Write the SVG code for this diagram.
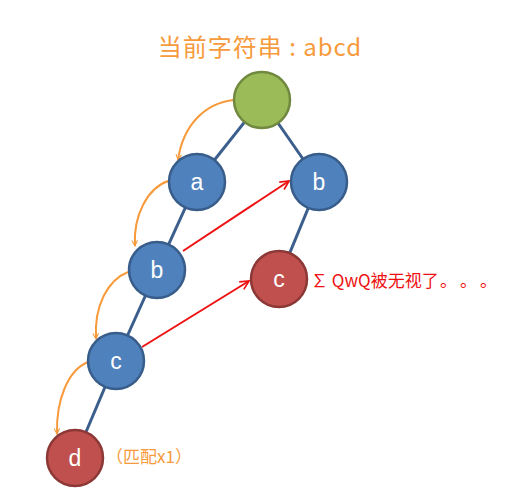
<svg xmlns="http://www.w3.org/2000/svg" width="521" height="500" viewBox="0 0 521 500">
<defs>
<style>
.edge{stroke:#3B5E8C;stroke-width:3;fill:none}
.orange{stroke:#F79A3C;stroke-width:2;fill:none}
.red{stroke:#EE1111;stroke-width:2;fill:none}
.blue{fill:#4F81BD;stroke:#385D8A;stroke-width:2.5}
.redn{fill:#C0504D;stroke:#8C3836;stroke-width:2.5}
.green{fill:#9BBB59;stroke:#71893F;stroke-width:2.5}
.lbl{font-family:"Liberation Sans","Noto Sans",sans-serif;font-size:23px;fill:#fff;text-anchor:middle}
</style>
<marker id="ao" viewBox="0 0 10 10" refX="9" refY="5" markerWidth="7" markerHeight="7" orient="auto" markerUnits="userSpaceOnUse">
<path d="M1,1 L9,5 L1,9" fill="none" stroke="#F79A3C" stroke-width="1.5"/>
</marker>
<marker id="ar" viewBox="0 0 10 10" refX="9" refY="5" markerWidth="11" markerHeight="11" orient="auto" markerUnits="userSpaceOnUse">
<path d="M1,1 L9,5 L1,9" fill="none" stroke="#EE1111" stroke-width="1.5"/>
</marker>
</defs>
<rect width="521" height="500" fill="#fff"/>
<text x="260" y="56" font-family="'Noto Sans CJK SC','Liberation Sans',sans-serif" font-size="24" letter-spacing="1" fill="#F79A3C" text-anchor="middle">当前字符串 : abcd</text>
<g id="connectors">
<line class="edge" x1="262" y1="100" x2="197" y2="182"/>
<line class="edge" x1="262" y1="100" x2="319" y2="182"/>
<line class="edge" x1="197" y1="182" x2="157" y2="270"/>
<line class="edge" x1="319" y1="182" x2="279" y2="279"/>
<line class="edge" x1="157" y1="270" x2="116" y2="361"/>
<line class="edge" x1="116" y1="361" x2="75" y2="458"/>
<path class="orange" d="M234,100 C205,103 183,125 178,160" marker-end="url(#ao)"/>
<path class="orange" d="M168,181 C148,188 133,215 135,246" marker-end="url(#ao)"/>
<path class="orange" d="M128,272 C108,280 94,305 96,339" marker-end="url(#ao)"/>
<path class="orange" d="M88,362 C68,370 56,400 57,434" marker-end="url(#ao)"/>
<line class="red" x1="183" y1="251" x2="289" y2="181" marker-end="url(#ar)"/>
<line class="red" x1="142" y1="347" x2="249" y2="281" marker-end="url(#ar)"/>
</g>
<g id="root"><circle class="green" cx="262" cy="100" r="28"/></g>
<g id="node-a"><circle class="blue" cx="197" cy="182" r="28"/><text class="lbl" x="197" y="190">a</text></g>
<g id="node-b-right"><circle class="blue" cx="319" cy="182" r="28"/><text class="lbl" x="319" y="190">b</text></g>
<g id="node-b-left"><circle class="blue" cx="157" cy="270" r="28"/><text class="lbl" x="157" y="278">b</text></g>
<g id="node-c-red"><circle class="redn" cx="279" cy="279" r="28"/><text class="lbl" x="279" y="287">c</text></g>
<g id="node-c-blue"><circle class="blue" cx="116" cy="361" r="28"/><text class="lbl" x="116" y="369">c</text></g>
<g id="node-d"><circle class="redn" cx="75" cy="458" r="28"/><text class="lbl" x="75" y="466">d</text></g>
<text y="287" font-family="'Noto Sans CJK SC','Liberation Sans',sans-serif" font-size="17" fill="#EE1111"><tspan x="311">∑ QwQ被无视了</tspan><tspan x="440">。</tspan><tspan x="460">。</tspan><tspan x="480">。</tspan></text>
<text x="106" y="463" font-family="'Noto Sans CJK SC','Liberation Sans',sans-serif" font-size="17" fill="#F79A3C">（匹配x1）</text>
</svg>
